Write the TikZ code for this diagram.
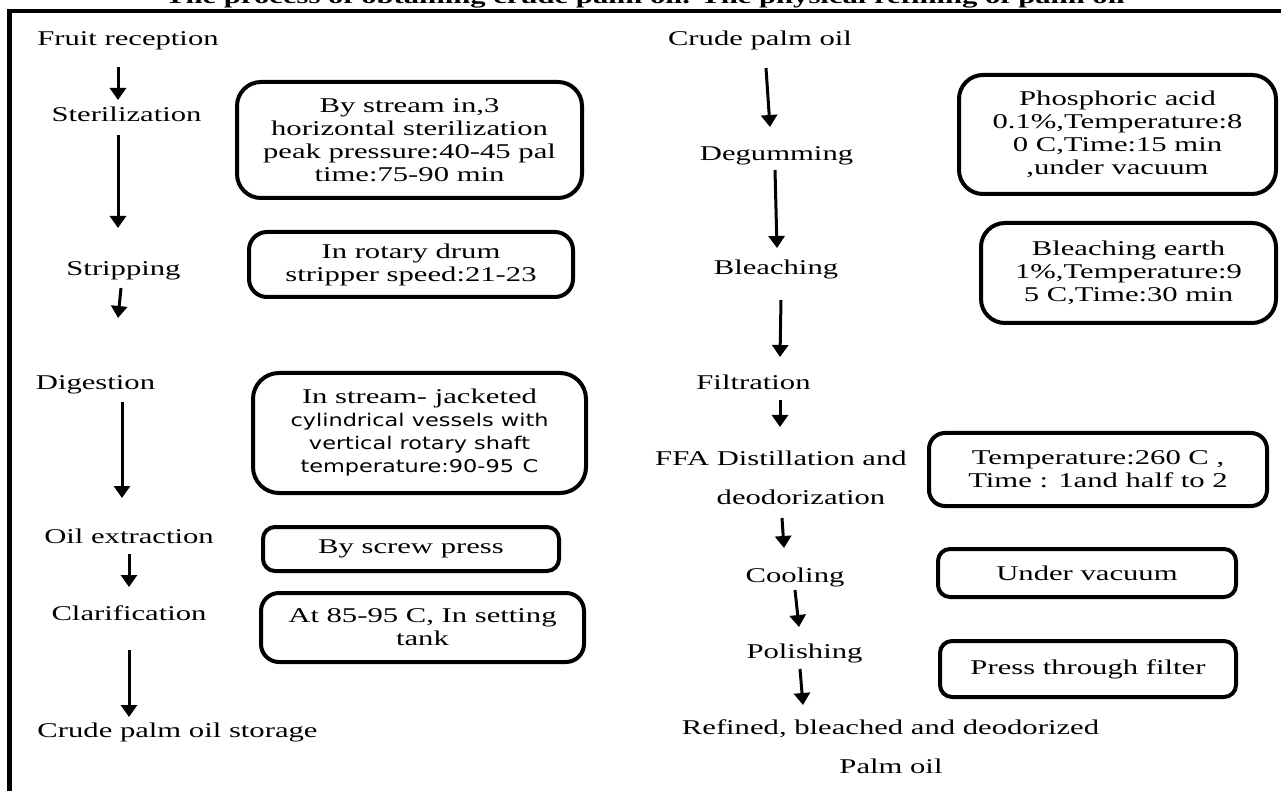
\documentclass[tikz,border=0pt]{standalone}
\usepackage{fontspec}
\setmainfont{Liberation Serif}[FakeStretch=1.46]
\newfontfamily\boxsans{DejaVu Sans}[FakeStretch=1.28]
\usetikzlibrary{arrows.meta,calc}
\begin{document}
\begin{tikzpicture}[x=0.5pt,y=-0.5pt,
  lbl/.style={inner sep=0pt, anchor=base, font=\fontsize{10.5pt}{11.5pt}\selectfont},
  note/.style={draw, line width=2pt, inner sep=0pt, align=center, font=\fontsize{10.5pt}{11.5pt}\selectfont},
  arr/.style={line width=1.5pt, -{Triangle[width=8pt,length=6pt]}},
  frameline/.style={line width=2pt}
]
\useasboundingbox (0,0) rectangle (1281,791);

% title (cut by the page edge)
\node[lbl, font=\fontsize{10.5pt}{11.5pt}\selectfont\bfseries] (title) at (645,3.5) {The process of obtaining crude palm oil. The physical refining of palm oil};

% frame
\draw[frameline, line width=1.85pt] (8,10.8) -- (1281,10.8);
\draw[frameline, line width=2.35pt] (9.7,9) -- (9.7,791);

% left column labels
\node[lbl] (fr)   at (128,46)   {Fruit reception};
\node[lbl] (ster) at (126.5,122) {Sterilization};
\node[lbl] (strip) at (123.5,276) {Stripping};
\node[lbl] (dig)  at (95.5,390) {Digestion};
\node[lbl] (oil)  at (129,544)  {Oil extraction};
\node[lbl] (clar) at (129,620)  {Clarification};
\node[lbl] (cpos) at (177.5,737) {Crude palm oil storage};

% left column notes
\node[note, rounded corners=12pt, minimum width=172.5pt, minimum height=58pt] (b1) at (409.5,140)
  {By stream in,3\\horizontal sterilization\\peak pressure:40-45 pal\\time:75-90 min};
\node[note, rounded corners=9pt, minimum width=162pt, minimum height=32.5pt] (b2) at (411,264.5)
  {In rotary drum\\stripper speed:21-23};
\node[note, rounded corners=13pt, minimum width=166.5pt, minimum height=60pt] (b3) at (419.5,433)
  {In stream- jacketed\\{\boxsans\fontsize{8.75pt}{11.5pt}\selectfont cylindrical vessels with}\\{\boxsans\fontsize{8.75pt}{11.5pt}\selectfont vertical rotary shaft}\\{\boxsans\fontsize{8.75pt}{11.5pt}\selectfont temperature:90-95\enspace C}};
\node[note, rounded corners=6pt, minimum width=148pt, minimum height=22pt] (b4) at (411,549)
  {By screw press};
\node[note, rounded corners=9pt, minimum width=161.5pt, minimum height=34.5pt] (b5) at (422.5,627.5)
  {At 85-95 C, In setting\\tank};

% right column labels
\node[lbl] (cpo)  at (760,46)   {Crude palm oil};
\node[lbl] (deg)  at (776.5,161) {Degumming};
\node[lbl] (blea) at (776,275)  {Bleaching};
\node[lbl] (filt) at (753.5,390) {Filtration};
\node[lbl] (ffa)  at (781,466)  {FFA Distillation and};
\node[lbl] (deo)  at (801,504)  {deodorization};
\node[lbl] (cool) at (795,582)  {Cooling};
\node[lbl] (pol)  at (804.5,658) {Polishing};
\node[lbl] (ref)  at (890.5,734) {Refined, bleached and deodorized};
\node[lbl] (palm) at (891,773)  {Palm oil};

% right column notes
\node[note, rounded corners=12pt, minimum width=158.5pt, minimum height=59.5pt] (b6) at (1117.5,134.5)
  {Phosphoric acid\\0.1\%,Temperature:8\\0 C,Time:15 min\\,under vacuum};
\node[note, rounded corners=12pt, minimum width=147.5pt, minimum height=50pt] (b7) at (1128.5,273)
  {Bleaching earth\\1\%,Temperature:9\\5 C,Time:30 min};
\node[note, rounded corners=8pt, minimum width=169pt, minimum height=36.5pt] (b8) at (1098,469.5)
  {Temperature:260 C ,\\Time : 1and half to 2};
\node[note, rounded corners=6pt, minimum width=149pt, minimum height=24pt] (b9) at (1087,573)
  {Under vacuum};
\node[note, rounded corners=6pt, minimum width=148pt, minimum height=28pt] (b10) at (1088,669)
  {Press through filter};

% left arrows
\draw[arr] ($(fr.base)+(-10,21)$) -- ($(ster.base)+(-8.5,-22)$);
\draw[arr] ($(ster.base)+(-8.5,13)$) -- ($(strip.base)+(-5.5,-48)$);
\draw[arr] ($(strip.base)+(-2.5,12)$) -- ($(dig.base)+(22.5,-72)$);
\draw[arr] ($(dig.base)+(26.5,12)$) -- ($(oil.base)+(-7,-46)$);
\draw[arr] ($(oil.base)+(0,10)$) -- ($(clar.base)+(0,-33)$);
\draw[arr] ($(clar.base)+(0,30)$) -- ($(cpos.base)+(-48.5,-20)$);

% right arrows
\draw[arr] ($(cpo.base)+(6,22)$) -- ($(deg.base)+(-6.5,-34)$);
\draw[arr] ($(deg.base)+(-1.5,9)$) -- ($(blea.base)+(1,-27)$);
\draw[arr] ($(blea.base)+(5,25)$) -- ($(filt.base)+(26.5,-33)$);
\draw[arr] ($(filt.base)+(26.5,10)$) -- ($(ffa.base)+(-1,-39)$);
\draw[arr] ($(deo.base)+(-19,14)$) -- ($(cool.base)+(-11,-34)$);
\draw[arr] ($(cool.base)+(0,8)$) -- ($(pol.base)+(-5.5,-31)$);
\draw[arr] ($(pol.base)+(-4.5,11)$) -- ($(ref.base)+(-87.5,-29)$);
\end{tikzpicture}
\end{document}
